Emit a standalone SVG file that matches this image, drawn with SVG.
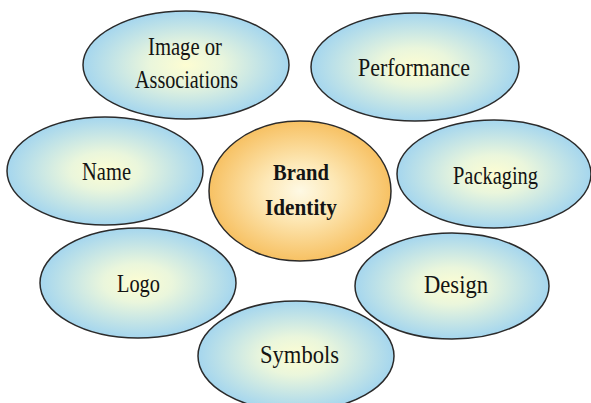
<svg xmlns="http://www.w3.org/2000/svg" width="591" height="403" viewBox="0 0 591 403">
  <defs>
    <radialGradient id="gBlue" cx="50%" cy="50%" r="50%">
      <stop offset="0" stop-color="#fdfdd2"/>
      <stop offset="0.35" stop-color="#eaf6dc"/>
      <stop offset="1" stop-color="#a5d6ee"/>
    </radialGradient>
    <radialGradient id="gOrange" cx="50%" cy="50%" r="50%">
      <stop offset="0" stop-color="#fef9e4"/>
      <stop offset="0.4" stop-color="#fde8b6"/>
      <stop offset="1" stop-color="#f7c163"/>
    </radialGradient>
  </defs>
  <style>
    .leaf { fill: url(#gBlue); stroke: #2b2b2b; stroke-width: 1.5; }
    .hub { fill: url(#gOrange); stroke: #2b2b2b; stroke-width: 1.5; }
    text { font-family: "Liberation Serif", "Times New Roman", serif; font-size: 25px; fill: #141414; text-anchor: middle; }
    .bold { font-weight: bold; font-size: 24px; }
  </style>
  <rect width="591" height="403" fill="#ffffff"/>
  <g id="connectors"></g>

  <g id="image-associations">
    <ellipse class="leaf" cx="186" cy="65" rx="103" ry="54"/>
    <text x="185" y="55" textLength="74" lengthAdjust="spacingAndGlyphs">Image or</text>
    <text x="186.5" y="88" textLength="103" lengthAdjust="spacingAndGlyphs">Associations</text>
  </g>
  <g id="performance">
    <ellipse class="leaf" cx="415" cy="67" rx="104" ry="54"/>
    <text x="414" y="76" textLength="112" lengthAdjust="spacingAndGlyphs">Performance</text>
  </g>
  <g id="name">
    <ellipse class="leaf" cx="105" cy="171" rx="98" ry="54"/>
    <text x="106.5" y="180" textLength="49" lengthAdjust="spacingAndGlyphs">Name</text>
  </g>
  <g id="packaging">
    <ellipse class="leaf" cx="494" cy="174" rx="97" ry="54"/>
    <text x="495.5" y="184" textLength="85" lengthAdjust="spacingAndGlyphs">Packaging</text>
  </g>
  <g id="brand-identity">
    <ellipse class="hub" cx="300" cy="191" rx="91" ry="70"/>
    <text class="bold" x="301" y="180" textLength="56" lengthAdjust="spacingAndGlyphs">Brand</text>
    <text class="bold" x="301" y="215" textLength="72" lengthAdjust="spacingAndGlyphs">Identity</text>
  </g>
  <g id="logo">
    <ellipse class="leaf" cx="138" cy="283" rx="98" ry="55"/>
    <text x="138.5" y="292" textLength="43" lengthAdjust="spacingAndGlyphs">Logo</text>
  </g>
  <g id="design">
    <ellipse class="leaf" cx="452" cy="286" rx="97" ry="53"/>
    <text x="456" y="293" textLength="64" lengthAdjust="spacingAndGlyphs">Design</text>
  </g>
  <g id="symbols">
    <ellipse class="leaf" cx="296" cy="356" rx="98" ry="55"/>
    <text x="299.5" y="363" textLength="79" lengthAdjust="spacingAndGlyphs">Symbols</text>
  </g>
</svg>
